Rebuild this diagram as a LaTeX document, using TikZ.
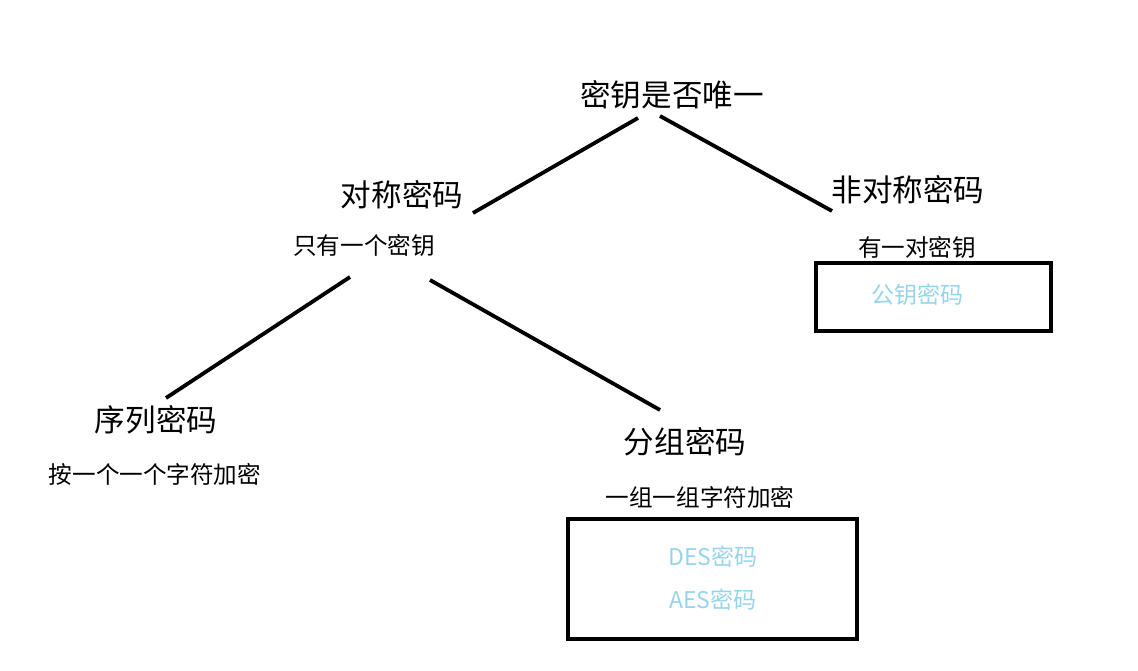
\documentclass[tikz,border=0pt]{standalone}
\usepackage{fontspec}
\setmainfont{Noto Sans CJK SC}
\definecolor{lblue}{RGB}{150,212,236}
\begin{document}
\begin{tikzpicture}[x=1pt,y=-1pt,
  big/.style={font=\fontsize{30.6}{35}\selectfont, inner sep=0pt},
  small/.style={font=\fontsize{23.6}{28}\selectfont, inner sep=0pt},
  blue/.style={font=\fontsize{23}{27}\selectfont, inner sep=0pt, text=lblue},
  link/.style={line width=3.8pt},
  frame/.style={draw, line width=4.5pt}]
\useasboundingbox (0,0) rectangle (1138,671);
\node[big] (root) at (672,95) {密钥是否唯一};
\node[big] (sym) at (402,195) {对称密码};
\node[small] (symd) at (364,245) {只有一个密钥};
\node[big] (asym) at (908,190) {非对称密码};
\node[small] (asymd) at (917,247) {有一对密钥};
\draw[frame] (816,263) rectangle (1051,331);
\node[blue] (pub) at (917,295) {公钥密码};
\node[big] (seq) at (156,420) {序列密码};
\node[small] (seqd) at (155,474) {按一个一个字符加密};
\node[big] (blk) at (685,442) {分组密码};
\node[small] (blkd) at (700,497) {一组一组字符加密};
\draw[frame] (568,519) rectangle (857,639);
\node[blue] (des) at (713,557) {DES密码};
\node[blue] (aes) at (713,600) {AES密码};
\coordinate (r1) at (638,118);
\coordinate (s1) at (473,213);
\coordinate (r2) at (660,116);
\coordinate (a1) at (832,211);
\coordinate (d1) at (350,277);
\coordinate (q1) at (166,398);
\coordinate (d2) at (430,280);
\coordinate (b1) at (660,410);
\draw[link] (r1) -- (s1);
\draw[link] (r2) -- (a1);
\draw[link] (d1) -- (q1);
\draw[link] (d2) -- (b1);
\end{tikzpicture}
\end{document}
